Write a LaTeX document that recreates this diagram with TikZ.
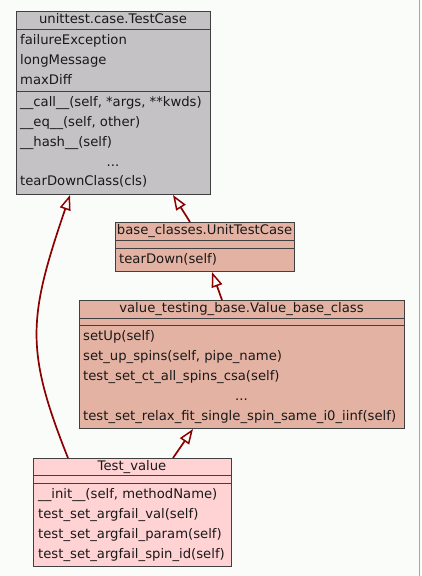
\documentclass[tikz,border=0pt]{standalone}
\usepackage{fontspec}
\setmainfont{DejaVu Sans}
\usetikzlibrary{arrows.meta}
\definecolor{bgc}{HTML}{FAFCFA}
\definecolor{tcgray}{HTML}{C4C2C4}
\definecolor{salmon}{HTML}{E4B2A2}
\definecolor{pinkc}{HTML}{FFD2D4}
\definecolor{edgec}{HTML}{8B0000}
\definecolor{borderc}{HTML}{404040}
\tikzset{
  classbox/.style={draw=borderc, line width=1pt, inner sep=0pt, anchor=north west},
  divline/.style={draw=borderc, line width=1pt},
  txt/.style={inner sep=0pt, anchor=base west, font=\fontsize{13.2}{15}\selectfont, text=black!90},
  ctxt/.style={txt, anchor=base},
  inherit/.style={draw=edgec, line width=1.7pt, -{Triangle[open, length=15pt, width=11pt, line width=1.5pt, fill=bgc]}}
}
\begin{document}
\begin{tikzpicture}[x=1pt,y=-1pt]
\fill[bgc] (0,0) rectangle (421,576);
\useasboundingbox (0,0) rectangle (421,576);
\draw[color=black!35, line width=1pt] (419.5,0) -- (419.5,576);

% unittest.case.TestCase
\node[classbox, fill=tcgray, minimum width=194pt, minimum height=183pt] (tc) at (16,11) {};
\draw[divline] (16,29) -- (210,29);
\draw[divline] (16,91) -- (210,91);
\node[ctxt] (tct) at (113,23) {unittest.case.TestCase};
\node[txt] (tca1) at (20,44) {failureException};
\node[txt] (tca2) at (20,64) {longMessage};
\node[txt] (tca3) at (20,84) {maxDiff};
\node[txt] (tcm1) at (20,106) {\_\_call\_\_(self, *args, **kwds)};
\node[txt] (tcm2) at (20,126) {\_\_eq\_\_(self, other)};
\node[txt] (tcm3) at (20,146) {\_\_hash\_\_(self)};
\node[ctxt] (tcm4) at (113,166) {...};
\node[txt] (tcm5) at (20,185) {tearDownClass(cls)};

% base_classes.UnitTestCase
\node[classbox, fill=salmon, minimum width=179pt, minimum height=49pt] (ut) at (115,222) {};
\draw[divline] (115,240) -- (294,240);
\draw[divline] (115,248) -- (294,248);
\node[ctxt] (utt) at (204.5,234.5) {base\_classes.UnitTestCase};
\node[txt] (utm1) at (119,263) {tearDown(self)};

% value_testing_base.Value_base_class
\node[classbox, fill=salmon, minimum width=325pt, minimum height=128pt] (vb) at (79,300) {};
\draw[divline] (79,318) -- (404,318);
\draw[divline] (79,325) -- (404,325);
\node[ctxt] (vbt) at (241.5,312) {value\_testing\_base.Value\_base\_class};
\node[txt] (vbm1) at (83,340) {setUp(self)};
\node[txt] (vbm2) at (83,360) {set\_up\_spins(self, pipe\_name)};
\node[txt] (vbm3) at (83,380) {test\_set\_ct\_all\_spins\_csa(self)};
\node[ctxt] (vbm4) at (241.5,400) {...};
\node[txt] (vbm5) at (83,420) {test\_set\_relax\_fit\_single\_spin\_same\_i0\_iinf(self)};

% Test_value
\node[classbox, fill=pinkc, minimum width=198pt, minimum height=108pt] (tv) at (33,458) {};
\draw[divline] (33,475) -- (231,475);
\draw[divline] (33,483) -- (231,483);
\node[ctxt] (tvt) at (132,470) {Test\_value};
\node[txt] (tvm1) at (38,498) {\_\_init\_\_(self, methodName)};
\node[txt] (tvm2) at (38,518) {test\_set\_argfail\_val(self)};
\node[txt] (tvm3) at (38,538) {test\_set\_argfail\_param(self)};
\node[txt] (tvm4) at (38,558) {test\_set\_argfail\_spin\_id(self)};

% inheritance connectors
\draw[inherit] ([xshift=75pt]ut.north west) -- ([xshift=157pt]tc.south west);
\draw[inherit] ([xshift=143pt]vb.north west) -- ([xshift=97pt]ut.south west);
\draw[inherit] ([xshift=140pt]tv.north west) -- ([xshift=114pt]vb.south west);
\draw[inherit] ([xshift=35pt]tv.north west) .. controls (25,350) and (28,318) .. ([xshift=54pt]tc.south west);
\end{tikzpicture}
\end{document}
